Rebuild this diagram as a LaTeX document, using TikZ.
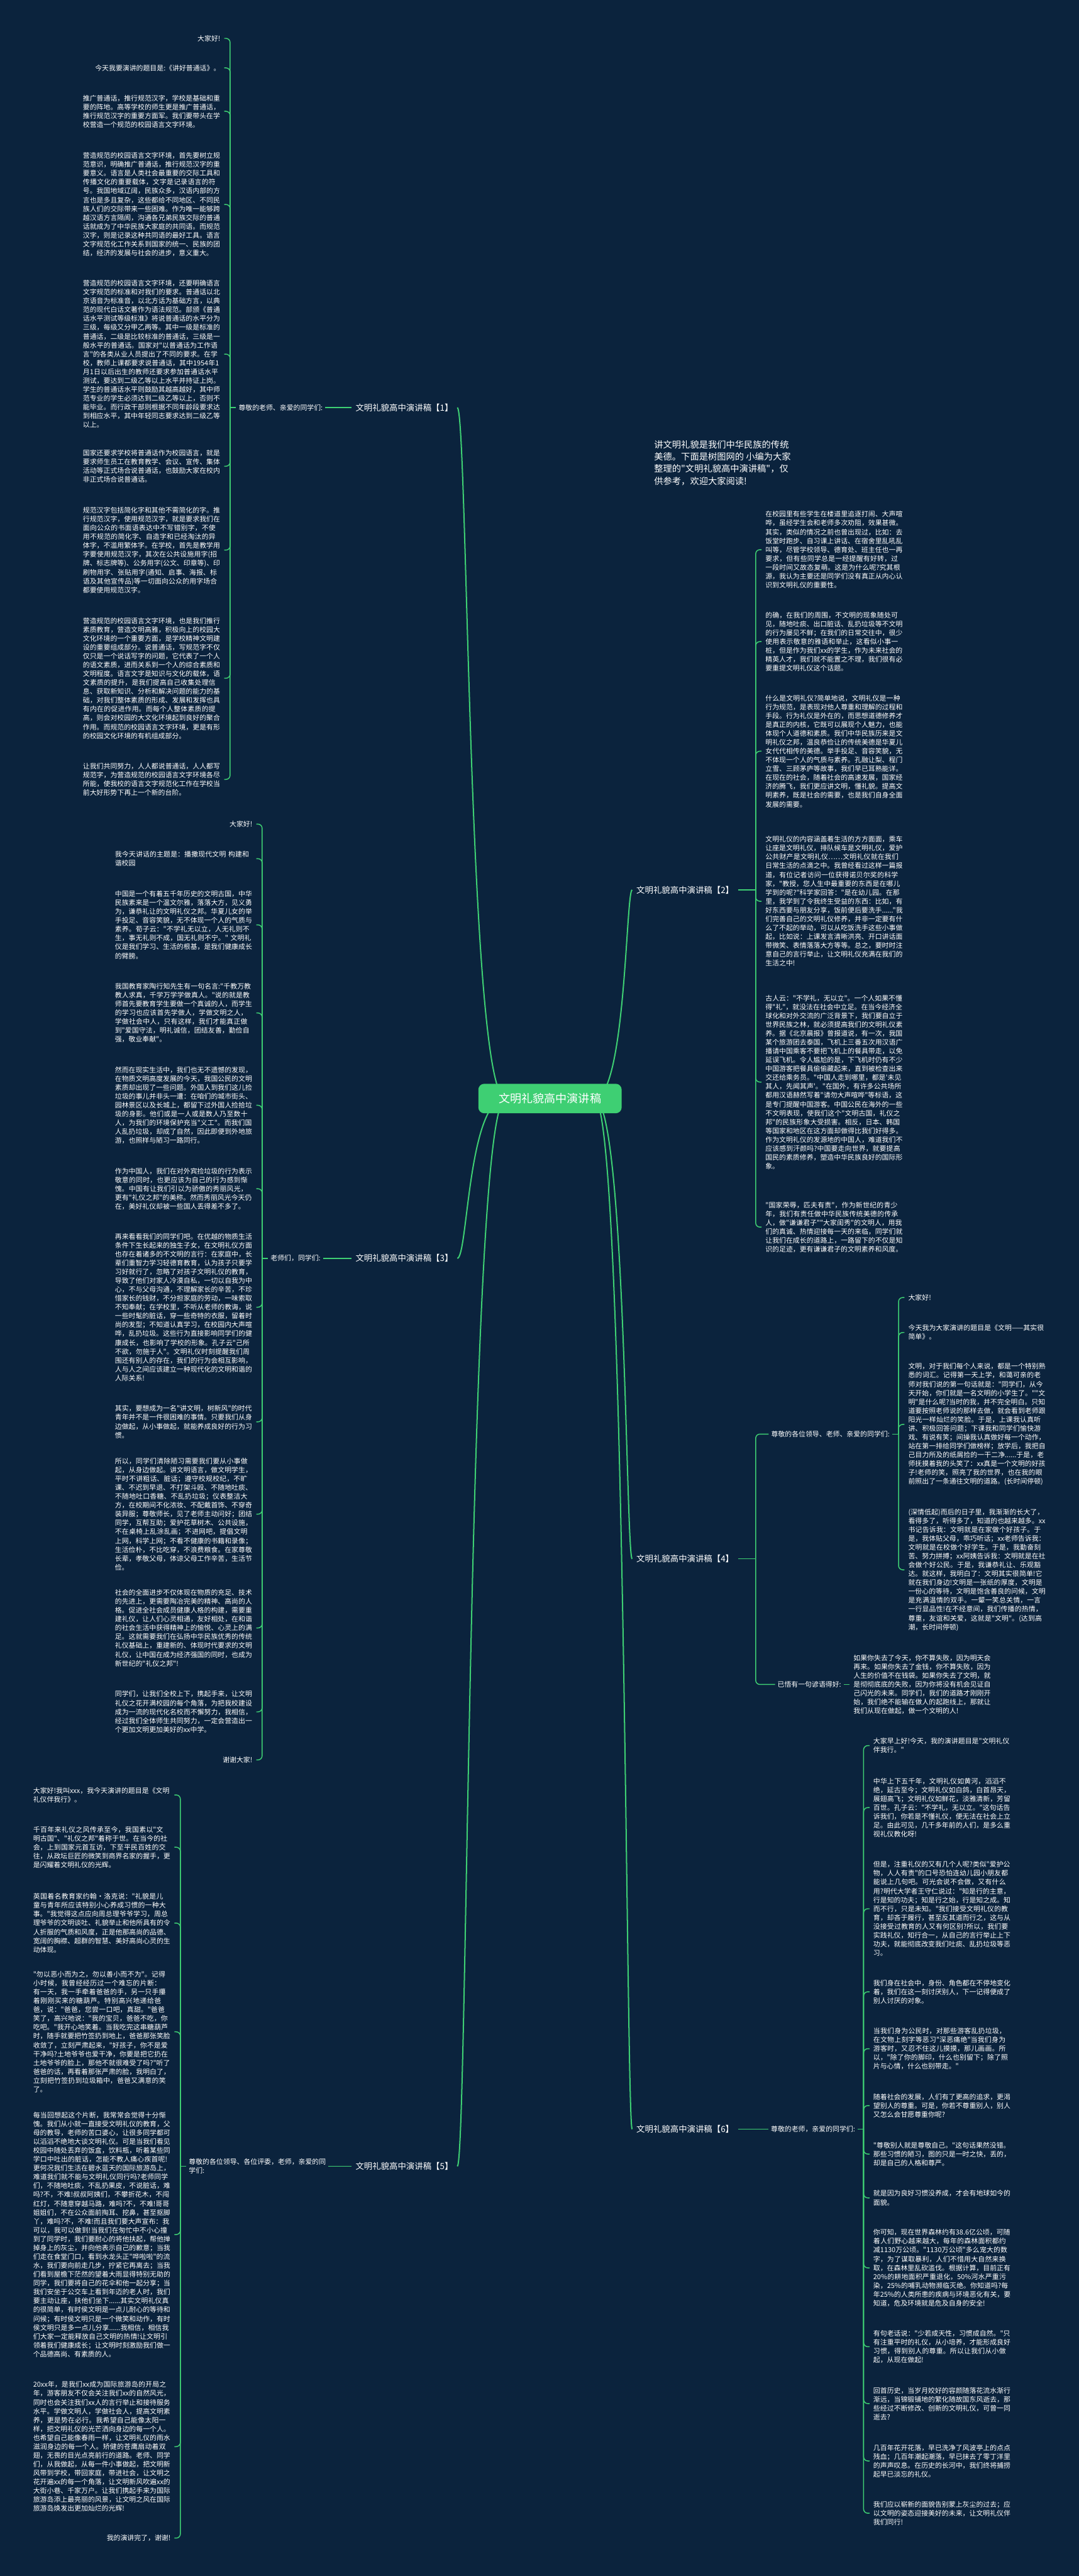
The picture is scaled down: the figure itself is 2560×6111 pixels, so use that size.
\documentclass[tikz,border=0pt]{standalone}
\usepackage{fontspec}
\newfontfamily\cjk{Noto Sans CJK SC}
\XeTeXlinebreaklocale "zh"
\XeTeXlinebreakskip = 0pt plus 1pt
\definecolor{bg}{HTML}{0B233D}
\definecolor{lg}{HTML}{3ECF73}
\definecolor{cg}{HTML}{3ECF73}
\newcommand\myp{\cjk\fontsize{16.25}{21}\selectfont}
\newcommand\myl{\cjk\fontsize{20}{24}\selectfont}
\newcommand\myt{\cjk\fontsize{21.3}{29}\selectfont}
\newcommand\myc{\cjk\fontsize{27}{32}\selectfont}
\tikzset{
 ptxt/.style={font=\myp, text=white, align=left, text width=326pt, inner xsep=9pt, inner ysep=0pt},
 ptxtL/.style={ptxt, anchor=east},
 ptxtR/.style={ptxt, anchor=west},
 stxtL/.style={font=\myp, text=white, inner xsep=9pt, inner ysep=0pt, anchor=east},
 lab/.style={font=\myp, text=white, inner xsep=6pt, inner ysep=0pt},
 mtopic/.style={font=\myl, text=white, inner xsep=10pt, inner ysep=2pt},
 conn/.style={draw=lg, line width=2.2pt, rounded corners=10pt},
 mconn/.style={draw=lg, line width=3pt},
}
\begin{document}
\begin{tikzpicture}[x=1pt,y=-1pt]
\fill[bg] (0,0) rectangle (2560,6111);
\useasboundingbox (0,0) rectangle (2560,6111);

% ---------- central + main topics ----------
\node[mtopic, anchor=east] (L1) at (1085,967) {文明礼貌高中演讲稿【1】};
\node[mtopic, anchor=east] (L3) at (1085,2985) {文明礼貌高中演讲稿【3】};
\node[mtopic, anchor=east] (L5) at (1085,5139) {文明礼貌高中演讲稿【5】};
\node[mtopic, anchor=west] (L2) at (1500,2111) {文明礼貌高中演讲稿【2】};
\node[mtopic, anchor=west] (L4) at (1500,3698) {文明礼貌高中演讲稿【4】};
\node[mtopic, anchor=west] (L6) at (1500,5051) {文明礼貌高中演讲稿【6】};

\draw[mconn] (1200,2606) .. controls (1110,2606) and (1110,967) .. (L1.east);
\draw[mconn] (1200,2606) .. controls (1110,2606) and (1110,2985) .. (L3.east);
\draw[mconn] (1200,2606) .. controls (1110,2606) and (1110,5139) .. (L5.east);
\draw[mconn] (1410,2606) .. controls (1485,2606) and (1485,2111) .. (L2.west);
\draw[mconn] (1410,2606) .. controls (1485,2606) and (1485,3698) .. (L4.west);
\draw[mconn] (1410,2606) .. controls (1485,2606) and (1485,5051) .. (L6.west);

\node[fill=cg, rounded corners=14pt, font=\myc, text=white, minimum width=340pt, minimum height=70pt] (C) at (1305,2606) {文明礼貌高中演讲稿};

% ---------- title ----------
\node[anchor=west, font=\myt, text=white, align=left, inner sep=0pt] (T) at (1552,1098) {讲文明礼貌是我们中华民族的传统\\美德。下面是树图网的 小编为大家\\整理的"文明礼貌高中演讲稿"，仅\\供参考，欢迎大家阅读!};

% ---------- branch 1 ----------
\coordinate (J1) at (546,967);
\node[lab, anchor=west] (s1) at (560,967) {尊敬的老师、亲爱的同学们:};
\draw[conn] (J1) -- (s1.west);
\draw[conn] (s1.east) -- (L1.west);
\node[stxtL] (a1) at (532,91) {大家好!};
\node[stxtL] (a2) at (532,161) {今天我要演讲的题目是:《讲好普通话》。};
\node[ptxtL] (a3) at (532,264) {推广普通话，推行规范汉字，学校是基础和重要的阵地。高等学校的师生更是推广普通话，推行规范汉字的重要方面军。我们要带头在学校营造一个规范的校园语言文字环境。};
\node[ptxtL] (a4) at (532,485) {营造规范的校园语言文字环境，首先要树立规范意识，明确推广普通话，推行规范汉字的重要意义。语言是人类社会最重要的交际工具和传播文化的重要载体，文字是记录语言的符号。我国地域辽阔，民族众多，汉语内部的方言也是多且复杂，这些都给不同地区、不同民族人们的交际带来一些困难。作为唯一能够跨越汉语方言隔阂，沟通各兄弟民族交际的普通话就成为了中华民族大家庭的共同语。而规范汉字，则是记录这种共同语的最好工具。语言文字规范化工作关系到国家的统一、民族的团结，经济的发展与社会的进步，意义重大。};
\node[ptxtL] (a5) at (532,840) {营造规范的校园语言文字环境，还要明确语言文字规范的标准和对我们的要求。普通话以北京语音为标准音，以北方话为基础方言，以典范的现代白话文著作为语法规范。部颁《普通话水平测试等级标准》将说普通话的水平分为三级，每级又分甲乙两等。其中一级是标准的普通话，二级是比较标准的普通话，三级是一般水平的普通话。国家对"以普通话为工作语言"的各类从业人员提出了不同的要求。在学校，教师上课都要求说普通话，其中1954年1月1日以后出生的教师还要求参加普通话水平测试，要达到二级乙等以上水平并持证上岗。学生的普通话水平则鼓励其越高越好，其中师范专业的学生必须达到二级乙等以上，否则不能毕业。而行政干部则根据不同年龄段要求达到相应水平，其中年轻同志要求达到二级乙等以上。};
\node[ptxtL] (a6) at (532,1106) {国家还要求学校将普通话作为校园语言，就是要求师生员工在教育教学、会议、宣传、集体活动等正式场合说普通话，也鼓励大家在校内非正式场合说普通话。};
\node[ptxtL] (a7) at (532,1305) {规范汉字包括简化字和其他不需简化的字。推行规范汉字，使用规范汉字，就是要求我们在面向公众的书面语表达中不写错别字，不使用不规范的简化字、自造字和已经淘汰的异体字，不滥用繁体字。在学校，首先是教学用字要使用规范汉字，其次在公共设施用字(招牌、标志牌等)、公务用字(公文、印章等)、印刷物用字、张贴用字(通知、启事、海报、标语及其他宣传品)等一切面向公众的用字场合都要使用规范汉字。};
\node[ptxtL] (a8) at (532,1609) {营造规范的校园语言文字环境，也是我们推行素质教育，营造文明高雅，积极向上的校园大文化环境的一个重要方面，是学校精神文明建设的重要组成部分。说普通话，写规范字不仅仅只是一个说话写字的问题，它代表了一个人的语文素质，进而关系到一个人的综合素质和文明程度。语言文字是知识与文化的载体，语文素质的提升，是我们提高自己收集处理信息、获取新知识、分析和解决问题的能力的基础，对我们整体素质的形成、发展和发挥也具有内在的促进作用。而每个人整体素质的提高，则会对校园的大文化环境起到良好的聚合作用。而规范的校园语言文字环境，更是有形的校园文化环境的有机组成部分。};
\node[ptxtL] (a9) at (532,1849) {让我们共同努力，人人都说普通话，人人都写规范字，为营造规范的校园语言文字环境各尽所能，使我校的语言文字规范化工作在学校当前大好形势下再上一个新的台阶。};
\foreach \n in {a1,a2,a3,a4,a5,a6,a7,a8,a9} \draw[conn] (J1) |- (\n.east);

% ---------- branch 3 ----------
\coordinate (J3) at (622,2985);
\node[lab, anchor=west] (s3) at (636,2985) {老师们，同学们:};
\draw[conn] (J3) -- (s3.west);
\draw[conn] (s3.east) -- (L3.west);
\node[stxtL] (e1) at (608,1955) {大家好!};
\node[ptxtL] (e2) at (608,2037) {我今天讲话的主题是：播撒现代文明 构建和谐校园};
\node[ptxtL] (e3) at (608,2194) {中国是一个有着五千年历史的文明古国，中华民族素来是一个温文尔雅，落落大方，见义勇为，谦恭礼让的文明礼仪之邦。华夏儿女的举手投足、音容笑貌，无不体现一个人的气质与素养。荀子云："不学礼无以立，人无礼则不生，事无礼则不成，国无礼则不宁。" 文明礼仪是我们学习、生活的根基，是我们健康成长的臂膀。};
\node[ptxtL] (e4) at (608,2403) {我国教育家陶行知先生有一句名言:"千教万教教人求真，千学万学学做真人。"说的就是教师首先要教育学生要做一个真诚的人，而学生的学习也应该首先学做人，学做文明之人，学做社会中人，只有这样，我们才能真正做到"爱国守法，明礼诚信，团结友善，勤俭自强，敬业奉献"。};
\node[ptxtL] (e5) at (608,2622) {然而在现实生活中，我们也无不遗憾的发现，在物质文明高度发展的今天，我国公民的文明素质却出现了一些问题。外国人到我们这儿捡垃圾的事儿并非头一遭：在咱们的城市街头、园林景区以及长城上，都留下过外国人捡拾垃圾的身影。他们或是一人或是数人乃至数十人，为我们的环境保护充当"义工"。而我们国人乱扔垃圾，却成了自然，因此即便到外地旅游，也照样与陋习一路同行。};
\node[ptxtL] (e6) at (608,2820) {作为中国人，我们在对外宾捡垃圾的行为表示敬意的同时，也更应该为自己的行为感到惭愧。中国有让我们引以为骄傲的秀丽风光，更有"礼仪之邦"的美称。然而秀丽风光今天仍在，美好礼仪却被一些国人丢得差不多了。};
\node[ptxtL] (e7) at (608,3101) {再来看看我们的同学们吧。在优越的物质生活条件下生长起来的独生子女，在文明礼仪方面也存在着诸多的不文明的言行：在家庭中，长辈们重智力学习轻德育教育，认为孩子只要学习好就行了，忽略了对孩子文明礼仪的教育，导致了他们对家人冷漠自私，一切以自我为中心，不与父母沟通，不理解家长的辛苦，不珍惜家长的钱财，不分担家庭的劳动，一味索取不知奉献；在学校里，不听从老师的教诲，说一些时髦的脏话，穿一些奇特的衣服，留着时尚的发型；不知道认真学习，在校园内大声喧哗，乱扔垃圾。这些行为直接影响同学们的健康成长，也影响了学校的形象。孔子云"己所不欲，勿施于人"。文明礼仪时刻提醒我们周围还有别人的存在，我们的行为会相互影响，人与人之间应该建立一种现代化的文明和谐的人际关系!};
\node[ptxtL] (e8) at (608,3373) {其实，要想成为一名"讲文明，树新风"的时代青年并不是一件很困难的事情。只要我们从身边做起，从小事做起，就能养成良好的行为习惯。};
\node[ptxtL] (e9) at (608,3592) {所以，同学们清除陋习需要我们要从小事做起，从身边做起。讲文明语言，做文明学生，平时不讲粗话、脏话；遵守校规校纪，不旷课、不迟到早退、不打架斗殴、不随地吐痰、不随地吐口香糖、不乱扔垃圾；仪表整洁大方，在校期间不化浓妆、不配戴首饰、不穿奇装异服；尊敬师长，见了老师主动问好；团结同学，互帮互助；爱护花草树木、公共设施，不在桌椅上乱涂乱画；不进网吧，提倡文明上网，科学上网；不看不健康的书籍和录像；生活俭朴，不比吃穿，不浪费粮食。在家尊敬长辈，孝敬父母，体谅父母工作辛苦，生活节俭。};
\node[ptxtL] (e10) at (608,3862) {社会的全面进步不仅体现在物质的充足、技术的先进上，更需要陶冶完美的精神、高尚的人格。促进全社会成员健康人格的构建，需要重建礼仪，让人们心灵相通，友好相处，在和谐的社会生活中获得精神上的愉悦、心灵上的满足。这就需要我们在弘扬中华民族优秀的传统礼仪基础上，重建新的、体现时代要求的文明礼仪，让中国在成为经济强国的同时，也成为新世纪的"礼仪之邦"!};
\node[ptxtL] (e11) at (608,4061) {同学们，让我们全校上下，携起手来，让文明礼仪之花开满校园的每个角落，为把我校建设成为一流的现代化名校而不懈努力，我相信，经过我们全体师生共同努力，一定会营造出一个更加文明更加美好的xx中学。};
\node[stxtL] (e12) at (608,4175) {谢谢大家!};
\foreach \n in {e1,e2,e3,e4,e5,e6,e7,e8,e9,e10,e11,e12} \draw[conn] (J3) |- (\n.east);

% ---------- branch 5 ----------
\coordinate (J5) at (428,5139);
\node[lab, anchor=west, align=left] (s5) at (442,5139) {尊敬的各位领导、各位评委，老师，亲爱的同\\学们:};
\draw[conn] (J5) -- (s5.west);
\draw[conn] (s5.east) -- (L5.west);
\node[ptxtL] (f1) at (414,4258) {大家好!我叫xxx，我今天演讲的题目是《文明礼仪伴我行》。};
\node[ptxtL] (f2) at (414,4382) {千百年来礼仪之风传承至今，我国素以"文明古国"、"礼仪之邦"着称于世。在当今的社会，上到国家元首互访，下至平民百姓的交往，从政坛巨匠的微笑到商界名家的握手，更是闪耀着文明礼仪的光辉。};
\node[ptxtL] (f3) at (414,4562) {英国着名教育家约翰·洛克说："礼貌是儿童与青年所应该特别小心养成习惯的一种大事。"我觉得这点应向周总理爷爷学习，周总理爷爷的文明谈吐、礼貌举止和他所具有的令人折服的气质和风度，正是他那高尚的品德、宽阔的胸襟、超群的智慧、美好高尚心灵的生动体现。};
\node[ptxtL] (f4) at (414,4820) {"勿以恶小而为之，勿以善小而不为"。记得小时候，我曾经经历过一个难忘的片断：有一天，我一手牵着爸爸的手，另一只手攥着刚刚买来的糖葫芦。特别高兴地递给爸爸，说："爸爸，您尝一口吧，真甜。"爸爸笑了，高兴地说："我的宝贝，爸爸不吃，你吃吧。"我开心地笑着。当我吃完这串糖葫芦时，随手就要把竹签扔到地上，爸爸那张笑脸收敛了，立刻严肃起来，"好孩子，你不是爱干净吗?土地爷爷也爱干净，你要是把它扔在土地爷爷的脸上，那他不就很难受了吗?"听了爸爸的话，再看着那张严肃的脸，我明白了，立刻把竹签扔到垃圾箱中，爸爸又满意的笑了。};
\node[ptxtL] (f5) at (414,5301) {每当回想起这个片断，我常常会觉得十分惭愧。我们从小就一直接受文明礼仪的教育，父母的教导，老师的苦口婆心，让很多同学都可以滔滔不绝地大谈文明礼仪。可是当我们看见校园中随处丢弃的饭盒，饮料瓶，听着某些同学口中吐出的脏话，怎能不教人痛心疾首呢!更何况我们生活在碧水蓝天的国际旅游岛上，难道我们就不能与文明礼仪同行吗?老师同学们，不随地吐痰，不乱扔果皮，不说脏话，难吗?不，不难!叔叔阿姨们，不攀折花木，不闯红灯，不随意穿越马路，难吗?不，不难!哥哥姐姐们，不在公众面前掏耳、挖鼻，甚至抠脚丫，难吗?不，不难!而且我们要大声宣布：我可以，我可以做到!当我们在匆忙中不小心撞到了同学时，我们要耐心的将他扶起，帮他掸掉身上的灰尘，并向他表示自己的歉意；当我们走在食堂门口，看到水龙头正"哗啦啦"的流水，我们要向前走几步，拧紧它再离去；当我们看到屋檐下茫然的望着大雨显得特别无助的同学，我们要将自己的花伞和他一起分享；当我们安坐于公交车上看到年迈的老人时，我们要主动让座，扶他们坐下......其实文明礼仪真的很简单，有时侯文明是一点儿耐心的等待和问候；有时侯文明只是一个微笑和动作，有时侯文明只是多一点儿分享......我相信，相信我们大家一定能释放自己文明的热情!让文明引领着我们健康成长；让文明时刻激励我们做一个品德高尚、有素质的人。};
\node[ptxtL] (f6) at (414,5804) {20xx年，是我们xx成为国际旅游岛的开局之年，游客朋友不仅会关注我们xx的自然风光，同时也会关注我们xx人的言行举止和接待服务水平。学做文明人，学做社会人，提高文明素养，更是势在必行。我希望自己能像太阳一样，把文明礼仪的光芒洒向身边的每一个人。也希望自己能像春雨一样，让文明礼仪的雨水滋润身边的每一个人。矫健的苍鹰扇动着双翅，无畏的目光点亮前行的道路。老师、同学们，从我做起，从每一件小事做起，把文明新风带到学校，带回家庭，带进社会，让文明之花开遍xx的每一个角落，让文明新风吹遍xx的大街小巷、千家万户。让我们携起手来为国际旅游岛添上最亮丽的风景，让文明之风在国际旅游岛焕发出更加灿烂的光辉!};
\node[stxtL] (f7) at (414,6021) {我的演讲完了，谢谢!};
\foreach \n in {f1,f2,f3,f4,f5,f6,f7} \draw[conn] (J5) |- (\n.east);

% ---------- branch 2 ----------
\coordinate (J2) at (1793,2111);
\draw[conn] (L2.east) -- (J2);
\node[ptxtR] (b1) at (1807,1304) {在校园里有些学生在楼道里追逐打闹、大声喧哗，虽经学生会和老师多次劝阻，效果甚微。其实，类似的情况之前也曾出现过，比如：去饭堂时跑步、自习课上讲话、在宿舍里乱吼乱叫等，尽管学校领导、德育处、班主任也一再要求，但有些同学总是一经提醒有好转，过一段时间又故态复萌。这是为什么呢?究其根源，我认为主要还是同学们没有真正从内心认识到文明礼仪的重要性。};
\node[ptxtR] (b2) at (1807,1522) {的确，在我们的周围，不文明的现象随处可见，随地吐痰、出口脏话、乱扔垃圾等不文明的行为屡见不鲜；在我们的日常交往中，很少使用表示敬意的雅语和举止，这看似小事一桩，但是作为我们xx的学生，作为未来社会的精英人才，我们就不能置之不理，我们很有必要重提文明礼仪这个话题。};
\node[ptxtR] (b3) at (1807,1782) {什么是文明礼仪?简单地说，文明礼仪是一种行为规范，是表现对他人尊重和理解的过程和手段。行为礼仪是外在的，而思想道德修养才是真正的内核，它既可以展现个人魅力，也能体现个人道德和素质。我们中华民族历来是文明礼仪之邦，温良恭俭让的传统美德是华夏儿女代代相传的美德。举手投足、音容笑貌，无不体现一个人的气质与素养。孔融让梨、程门立雪、三顾茅庐等故事，我们早已耳熟能详。在现在的社会，随着社会的高速发展，国家经济的腾飞，我们更应讲文明，懂礼貌。提高文明素养，既是社会的需要，也是我们自身全面发展的需要。};
\node[ptxtR] (b4) at (1807,2138) {文明礼仪的内容涵盖着生活的方方面面，乘车让座是文明礼仪，排队候车是文明礼仪，爱护公共财产是文明礼仪……文明礼仪就在我们日常生活的点滴之中。我曾经看过这样一篇报道，有位记者访问一位获得诺贝尔奖的科学家，"教授，您人生中最重要的东西是在哪儿学到的呢?"科学家回答："是在幼儿园。在那里，我学到了令我终生受益的东西：比如，有好东西要与朋友分享，饭前便后要洗手......"我们完善自己的文明礼仪修养，并非一定要有什么了不起的举动，可以从吃饭洗手这些小事做起，比如说：上课发言清晰洪亮、开口讲话面带微笑、表情落落大方等等。总之，要时时注意自己的言行举止，让文明礼仪充满在我们的生活之中!};
\node[ptxtR] (b5) at (1807,2567) {古人云："不学礼，无以立"。一个人如果不懂得"礼"，就没法在社会中立足。在当今经济全球化和对外交流的广泛背景下，我们要自立于世界民族之林，就必须提高我们的文明礼仪素养。据《北京晨报》曾报道说，有一次，我国某个旅游团去泰国，飞机上三番五次用汉语广播请中国乘客不要把飞机上的餐具带走，以免延误飞机。令人尴尬的是，下飞机时仍有不少中国游客把餐具偷偷藏起来，直到被检查出来交还给乘务员。"中国人走到哪里，都是'未见其人，先闻其声'。"在国外，有许多公共场所都用汉语赫然写着"请勿大声喧哗"等标语，这是专门提醒中国游客。中国公民在海外的一些不文明表现，使我们这个"文明古国，礼仪之邦"的民族形象大受损害。相反，日本、韩国等国家和地区在这方面却做得比我们好得多。作为文明礼仪的发源地的中国人，难道我们不应该感到汗颜吗?中国要走向世界，就要提高国民的素质修养，塑造中华民族良好的国际形象。};
\node[ptxtR] (b6) at (1807,2911) {"国家荣辱，匹夫有责"，作为新世纪的青少年，我们有责任做中华民族传统美德的传承人，做"谦谦君子""大家闺秀"的文明人，用我们的真诚、热情迎接每一天的来临，同学们就让我们在成长的道路上，一路留下的不仅是知识的足迹，更有谦谦君子的文明素养和风度。};
\foreach \n in {b1,b2,b3,b4,b5,b6} \draw[conn] (J2) |- (\n.west);

% ---------- branch 4 ----------
\coordinate (J4) at (1793,3698);
\draw[conn] (L4.east) -- (J4);
\node[lab, anchor=east] (s4a) at (2117,3402) {尊敬的各位领导、老师、亲爱的同学们:};
\node[lab, anchor=east] (s4b) at (2002,3996) {已悟有一句谚语得好:};
\draw[conn] (J4) |- (s4a.west);
\draw[conn] (J4) |- (s4b.west);
\coordinate (J4a) at (2132,3402);
\draw[conn] (s4a.east) -- (J4a);
\node[ptxtR] (d1) at (2146,3078) {大家好!};
\node[ptxtR] (d2) at (2146,3161) {今天我为大家演讲的题目是《文明——其实很简单》。};
\node[ptxtR] (d3) at (2146,3379) {文明，对于我们每个人来说，都是一个特别熟悉的词汇。记得第一天上学，和蔼可亲的老师对我们说的第一句话就是："同学们，从今天开始，你们就是一名文明的小学生了。""文明"是什么呢?当时的我，并不完全明白。只知道要按照老师说的那样去做，就会看到老师跟阳光一样灿烂的笑脸。于是，上课我认真听讲、积极回答问题；下课我和同学们愉快游戏、有说有笑；间操我认真做好每一个动作，站在第一排给同学们做榜样；放学后，我把自己目力所及的纸屑捡的一干二净......于是，老师抚摸着我的头笑了：xx真是一个文明的好孩子!老师的笑，照亮了我的世界，也在我的眼前照出了一条通往文明的道路。(长时间停顿)};
\node[ptxtR] (d4) at (2146,3724) {(深情低起)而后的日子里，我渐渐的长大了，看得多了，听得多了，知道的也越来越多。xx书记告诉我：文明就是在家做个好孩子。于是，我体贴父母，乖巧听话；xx老师告诉我：文明就是在校做个好学生。于是，我勤奋刻苦、努力拼搏；xx阿姨告诉我：文明就是在社会做个好公民。于是，我谦恭礼让、乐观豁达。就这样，我明白了：文明其实很简单!它就在我们身边!文明是一张纸的厚度，文明是一份心的等待，文明是饱含善良的问候，文明是充满温情的双手。一颦一笑总关情，一言一行显品性!在不经意间，我们传播的热情，尊重，友谊和关爱，这就是"文明"。(达到高潮，长时间停顿)};
\foreach \n in {d1,d2,d3,d4} \draw[conn] (J4a) |- (\n.west);
\node[ptxtR] (d5) at (2016,3996) {如果你失去了今天，你不算失败，因为明天会再来。如果你失去了金钱，你不算失败，因为人生的价值不在钱袋。如果你失去了文明，就是彻彻底底的失败，因为你将没有机会见证自己闪光的未来。同学们，我们的道路才刚刚开始，我们绝不能输在做人的起跑线上，那就让我们从现在做起，做一个文明的人!};
\draw[conn] (s4b.east) -- (d5.west);

% ---------- branch 6 ----------
\node[lab, anchor=east] (s6) at (2035,5051) {尊敬的老师，亲爱的同学们:};
\draw[conn] (L6.east) -- (s6.west);
\coordinate (J6) at (2049,5051);
\draw[conn] (s6.east) -- (J6);
\node[ptxtR] (g1) at (2063,4141) {大家早上好!今天，我的演讲题目是"文明礼仪伴我行。"};
\node[ptxtR] (g2) at (2063,4288) {中华上下五千年，文明礼仪如黄河，滔滔不绝，延古至今；文明礼仪如白鸽，白首昂天，展翅高飞；文明礼仪如鲜花，淡雅清新，芳留百世。孔子云："不学礼，无以立。"这句话告诉我们，你若是不懂礼仪，便无法在社会上立足。由此可见，几千多年前的人们，是多么重视礼仪教化呀!};
\node[ptxtR] (g3) at (2063,4528) {但是，注重礼仪的又有几个人呢?类似"爱护公物，人人有责"的口号恐怕连幼儿园小朋友都能说上几句吧。可光会说不会做，又有什么用?明代大学者王守仁说过："知是行的主意，行是知的功夫；知是行之始，行是知之成。知而不行，只是未知。"我们接受文明礼仪的教育，却吝于履行，甚至反其道而行之，这与从没接受过教育的人又有何区别?所以，我们要实践礼仪，知行合一，从自己的言行举止上下功夫，就能彻底改变我们吐痰、乱扔垃圾等恶习。};
\node[ptxtR] (g4) at (2063,4725) {我们身在社会中，身份、角色都在不停地变化着，我们在这一刻讨厌别人，下一记得便成了别人讨厌的对象。};
\node[ptxtR] (g5) at (2063,4860) {当我们身为公民时，对那些游客乱扔垃圾，在文物上刻字等恶习"深恶痛绝"当我们身为游客时，又忍不住这儿摸摸，那儿画画。所以，"除了你的脚印，什么也别留下；除了照片与心情，什么也别带走。"};
\node[ptxtR] (g6) at (2063,4995) {随着社会的发展，人们有了更高的追求，更渴望别人的尊重。可是，你若不尊重别人，别人又怎么会甘愿尊重你呢?};
\node[ptxtR] (g7) at (2063,5110) {"尊敬别人就是尊敬自己。"这句话果然没错。那些习惯的陋习，图的只是一时之快，丢的，却是自己的人格和尊严。};
\node[ptxtR] (g8) at (2063,5214) {就是因为良好习惯没养成，才会有地球如今的面貌。};
\node[ptxtR] (g9) at (2063,5380) {你可知，现在世界森林约有38.6亿公顷，可随着人们野心越来越大，每年的森林面积都约减1130万公顷。"1130万公顷"多么宠大的数字，为了谋取暴利，人们不惜用大自然来换取，在森林里乱砍滥伐。根据计算，目前正有20\%的耕地面积严重退化，50\%河水严重污染，25\%的哺乳动物濒临灭绝。你知道吗?每年25\%的人类所患的疾病与环境恶化有关，要知道，危及环境就是危及自身的安全!};
\node[ptxtR] (g10) at (2063,5567) {有句老话说："少若成天性，习惯成自然。"只有注重平时的礼仪，从小培养，才能形成良好习惯，得到别人的尊重。所以让我们从小做起，从现在做起!};
\node[ptxtR] (g11) at (2063,5702) {回首历史，当岁月姣好的容颜随落花流水渐行渐远，当锦锻铺地的繁化随故国东风逝去，那些经过不断修改、创新的文明礼仪，可曾一同逝去?};
\node[ptxtR] (g12) at (2063,5838) {几百年花开花落，早已洗净了风波亭上的点点残血；几百年潮起潮落，早已抹去了零丁洋里的声声叹息。在历史的长河中，我们终将捕捞起早已淡忘的礼仪。};
\node[ptxtR] (g13) at (2063,5962) {我们应以崭新的面貌告别蒙上灰尘的过去；应以文明的姿态迎接美好的未来，让文明礼仪伴我们同行!};
\foreach \n in {g1,g2,g3,g4,g5,g6,g7,g8,g9,g10,g11,g12,g13} \draw[conn] (J6) |- (\n.west);

\end{tikzpicture}
\end{document}
